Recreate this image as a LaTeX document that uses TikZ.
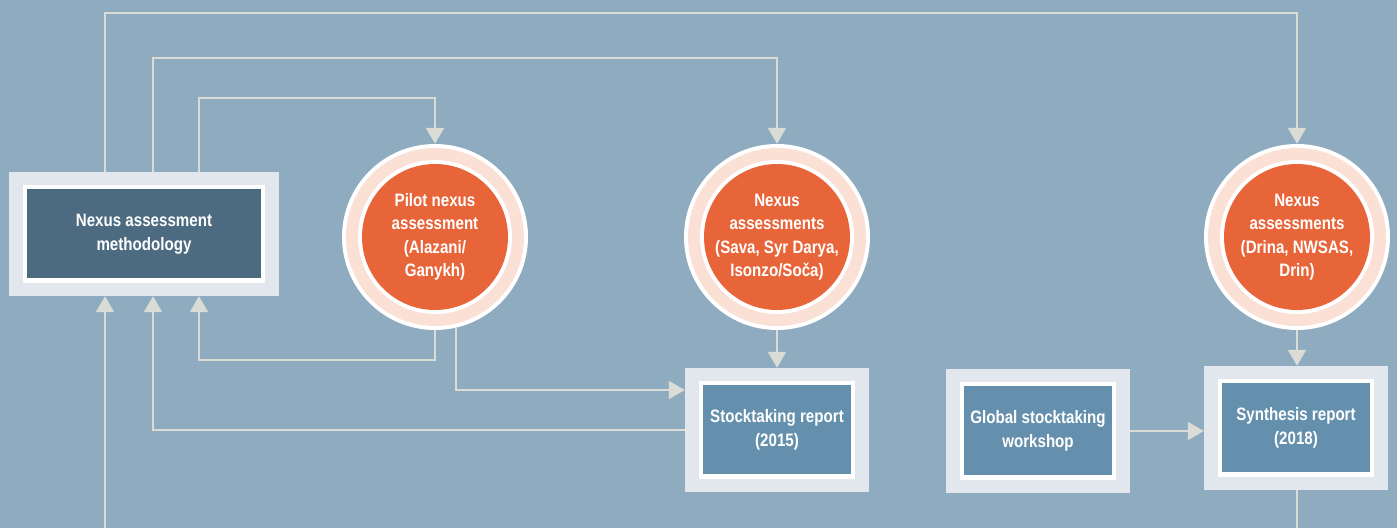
\documentclass[tikz,border=0pt]{standalone}
\usepackage{fontspec}
\setmainfont{Liberation Sans}[FakeStretch=0.84]
\usetikzlibrary{arrows.meta}

\definecolor{bgblue}{RGB}{143,171,192}
\definecolor{framegrey}{RGB}{225,231,236}
\definecolor{methblue}{RGB}{76,107,128}
\definecolor{repblue}{RGB}{101,144,173}
\definecolor{ringpink}{RGB}{251,224,214}
\definecolor{nexorange}{RGB}{232,101,58}
\definecolor{linegrey}{RGB}{220,220,214}

\tikzset{
  label text/.style={text=white, align=center,
    font=\bfseries\fontsize{18}{23.5}\selectfont},
  % framed box: grey frame, thin white rule, coloured panel
  framedbox/.style 2 args={rectangle, minimum width=#1, minimum height=124pt,
    inner sep=0pt, fill=framegrey, label text,
    path picture={
      \fill[white] ([shift={(14pt,-13pt)}]path picture bounding box.north west)
        rectangle ([shift={(-14pt,13pt)}]path picture bounding box.south east);
      \fill[#2] ([shift={(18pt,-17pt)}]path picture bounding box.north west)
        rectangle ([shift={(-18pt,18pt)}]path picture bounding box.south east);
    }},
  % ringed disc: white rim, pink band, white rule, orange core
  ringdisc/.style={circle, minimum size=186pt, inner sep=0pt, fill=white,
    label text,
    path picture={
      \fill[ringpink] (path picture bounding box.center) circle (89pt);
      \fill[white] (path picture bounding box.center) circle (77pt);
      \fill[nexorange] (path picture bounding box.center) circle (73pt);
    }},
  conn/.style={draw=linegrey, line width=2pt},
  arr/.style={conn, -{Triangle[width=18pt,length=16pt]}, linegrey},
}

\begin{document}
\begin{tikzpicture}[x=1pt, y=-1pt]
  \fill[bgblue] (0,0) rectangle (1397,528);
  \useasboundingbox (0,0) rectangle (1397,528);

  % nodes
  \node[framedbox={270pt}{methblue}] (meth) at (144,234) {Nexus assessment\\methodology};

  \node[ringdisc] (c1) at (435,237) {Pilot nexus\\assessment\\(Alazani/\\Ganykh)};
  \node[ringdisc] (c2) at (777,237) {Nexus\\assessments\\(Sava, Syr Darya,\\Isonzo/Soča)};
  \node[ringdisc] (c3) at (1297,237) {Nexus\\assessments\\(Drina, NWSAS,\\Drin)};

  \node[framedbox={184pt}{repblue}] (stock) at (777,430) {Stocktaking report\\(2015)};
  \node[framedbox={184pt}{repblue}] (work)  at (1038,431) {Global stocktaking\\workshop};
  \node[framedbox={184pt}{repblue}] (synth) at (1296,428) {Synthesis report\\(2018)};

  \coordinate (feedIn) at (105,528);
  \coordinate (feedOut) at (1297,528);

  % connectors from the methodology to the assessments
  \draw[arr] ([xshift=-39pt]meth.north) |- ([yshift=131pt]c3.north) -- (c3.north);
  \draw[arr] ([xshift=9pt]meth.north) |- ([yshift=86pt]c2.north) -- (c2.north);
  \draw[arr] ([xshift=55pt]meth.north) |- ([yshift=46pt]c1.north) -- (c1.north);

  % feedback into the methodology
  \draw[arr] (c1.south) -- ++(0,30) -| ([xshift=55pt]meth.south);
  \draw[arr] (stock.west) -| ([xshift=9pt]meth.south);
  \draw[arr] (feedIn) -- ([xshift=-39pt]meth.south);

  % assessments to the reports
  \draw[arr] (c1.-77.6) |- ([yshift=40pt]stock.west);
  \draw[arr] (c2.south) -- (stock.north);
  \draw[arr] (c3.south) -- ([xshift=1pt]synth.north);
  \draw[arr] (work.east) -- (work.east -| synth.west);
  \draw[conn] ([xshift=1pt]synth.south) -- (feedOut);
\end{tikzpicture}
\end{document}
